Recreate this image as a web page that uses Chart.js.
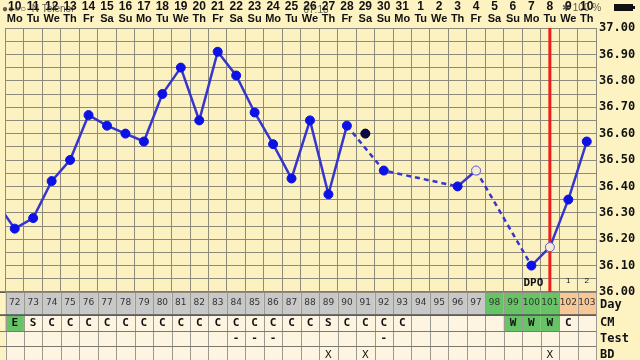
<!DOCTYPE html>
<html><head><meta charset="utf-8">
<script src="https://cdn.jsdelivr.net/npm/chart.js@4"></script>
<style>html,body{margin:0;padding:0;background:#fdf2c2;}#wrap{width:640px;height:360px;}</style>
</head><body><div id="wrap"><canvas id="c" width="640" height="360"></canvas></div>
<script>
// ---- data ----
const dates = ["10","11","12","13","14","15","16","17","18","19","20","21","22","23","24","25","26","27","28","29","30","31","1","2","3","4","5","6","7","8","9","10"];
const weekdays = ["Mo","Tu","We","Th","Fr","Sa","Su","Mo","Tu","We","Th","Fr","Sa","Su","Mo","Tu","We","Th","Fr","Sa","Su","Mo","Tu","We","Th","Fr","Sa","Su","Mo","Tu","We","Th"];
const cycleDays = [72,73,74,75,76,77,78,79,80,81,82,83,84,85,86,87,88,89,90,91,92,93,94,95,96,97,98,99,100,101,102,103];
const prevDayTemp = 36.34;
const temps = [36.24,36.28,36.42,36.50,36.67,36.63,36.60,36.57,36.75,36.85,36.65,36.91,36.82,36.68,36.56,36.43,36.65,36.37,36.63,null,36.46,null,null,null,36.40,36.46,null,null,36.10,36.17,36.35,36.57];
const excludedIndex = [19];
const excludedTemps = [36.60];
const openIndex = [25, 29];
const cmCodes = ["E","S","C","C","C","C","C","C","C","C","C","C","C","C","C","C","C","S","C","C","C","C","","","","","","W","W","W","C",""];
const testMarks = ["","","","","","","","","","","","","-","-","-","","","","","","-","","","","","","","","","","",""];
const bdMarks = ["","","","","","","","","","","","","","","","","","X","","X","","","","","","","","","","X","",""];
const fertileDays = [98,99,100,101];
const lutealDays = [102,103];
const cmFertile = ["E","W"];
const ovulationIndex = 29;
const dpoLabelIndex = 28;
const dpoNumbers = [["1",30],["2",31]];
const yTicks = []; for (let k = 0; k <= 20; k++) yTicks.push(Math.round((36 + k * 0.05) * 100) / 100);
const xBounds = []; for (let k = 0; k <= cycleDays.length; k++) xBounds.push(k - 0.5);

const mainData = [{x: -1, y: prevDayTemp}].concat(temps.map((t, i) => ({x: i, y: t})));
const exclData = excludedIndex.map((i, k) => ({x: i, y: excludedTemps[k]}));

const BLUE = '#0c12e6', LINE = '#3636cf', GRID = '#8f8b7c';
const MONO = "'DejaVu Sans Mono', monospace";
const SANS = "'Liberation Sans', Arial, sans-serif";

const tablePlugin = {
  id: 'table',
  beforeDraw(chart) {
    const {ctx, chartArea: a, scales: {x}} = chart;
    ctx.save();
    ctx.fillStyle = '#fdf2c2'; ctx.fillRect(0, 0, 640, 360);
    ctx.fillStyle = '#fcf1c0'; ctx.fillRect(a.left, a.top, a.right - a.left, a.bottom - a.top);
    const rows = [[a.bottom, 23], [a.bottom + 23, 16], [a.bottom + 39, 15], [a.bottom + 54, 16]];
    const n = cycleDays.length;
    for (let i = 0; i < n; i++) {
      const l = x.getPixelForValue(i - 0.5), r = x.getPixelForValue(i + 0.5);
      // day row
      let c = '#c8c8c8';
      if (fertileDays.includes(cycleDays[i])) c = '#66c466';
      if (lutealDays.includes(cycleDays[i])) c = '#f7c896';
      ctx.fillStyle = c; ctx.fillRect(l, rows[0][0], r - l, rows[0][1]);
      // cm row
      ctx.fillStyle = cmFertile.includes(cmCodes[i]) ? '#66c466' : '#fdf5e2';
      ctx.fillRect(l, rows[1][0], r - l, rows[1][1]);
      ctx.fillStyle = '#fdf5e2';
      ctx.fillRect(l, rows[2][0], r - l, rows[2][1]);
      ctx.fillRect(l, rows[3][0], r - l, rows[3][1]);
    }
    // table lines
    ctx.strokeStyle = '#9a9a90'; ctx.lineWidth = 1;
    for (let k = 0; k <= n; k++) {
      const px = Math.round(x.getPixelForValue(k - 0.5)) + 0.5;
      ctx.beginPath(); ctx.moveTo(px, a.bottom); ctx.lineTo(px, 360); ctx.stroke();
    }
    ctx.strokeStyle = '#7a7a70';
    rows.forEach(([t]) => { ctx.beginPath(); ctx.moveTo(0, Math.round(t) + 0.5); ctx.lineTo(a.right, Math.round(t) + 0.5); ctx.stroke(); });
    ctx.lineWidth = 1.5; ctx.strokeStyle = '#555';
    ctx.beginPath(); ctx.moveTo(0, a.bottom + 23); ctx.lineTo(a.right, a.bottom + 23); ctx.stroke();
    ctx.beginPath(); ctx.moveTo(0, a.bottom); ctx.lineTo(a.right, a.bottom); ctx.stroke();
    // texts
    ctx.textAlign = 'center'; ctx.textBaseline = 'middle';
    for (let i = 0; i < n; i++) {
      const cx = x.getPixelForValue(i);
      ctx.fillStyle = '#333'; ctx.font = "9px 'DejaVu Sans', sans-serif";
      ctx.fillText(String(cycleDays[i]), cx, rows[0][0] + 11);
      ctx.fillStyle = '#111'; ctx.font = "bold 11px " + MONO;
      if (cmCodes[i]) ctx.fillText(cmCodes[i], cx, rows[1][0] + 8);
      if (testMarks[i]) ctx.fillText(testMarks[i], cx, rows[2][0] + 7);
      ctx.font = "11px " + MONO;
      if (bdMarks[i]) ctx.fillText(bdMarks[i], cx, rows[3][0] + 9);
      // header
      ctx.fillStyle = '#111';
      ctx.font = "bold 12px " + SANS;
      ctx.fillText(dates[i], cx, 7);
      ctx.font = "bold 11px " + SANS;
      ctx.fillText(weekdays[i], cx, 19);
    }
    // right labels
    ctx.textAlign = 'left'; ctx.fillStyle = '#111'; ctx.font = "bold 12px " + MONO;
    ctx.fillText('Day', a.right + 4, rows[0][0] + 13);
    ctx.fillText('CM', a.right + 4, rows[1][0] + 8);
    ctx.fillText('Test', a.right + 4, rows[2][0] + 8);
    ctx.fillText('BD', a.right + 4, rows[3][0] + 9);
    // status bar overlay
    ctx.fillStyle = 'rgba(40,40,40,0.75)';
    ctx.font = "10px " + SANS;
    ctx.fillText('\u25CF\u25CF\u25CB\u25CB  N Telenor', 2, 9);
    ctx.textAlign = 'center';
    ctx.fillText('07:18', 316, 10);
    ctx.textAlign = 'left';
    ctx.fillText('\u2731 100 %', 562, 8);
    ctx.fillStyle = '#111'; ctx.fillRect(614, 4, 19, 7); ctx.fillRect(633, 6, 2, 3);
    ctx.restore();
  },
  beforeDatasetsDraw(chart) {
    const {ctx, chartArea: a, scales: {x}} = chart;
    const px = x.getPixelForValue(ovulationIndex);
    ctx.save();
    ctx.strokeStyle = '#e8211d'; ctx.lineWidth = 3;
    ctx.beginPath(); ctx.moveTo(px, a.top); ctx.lineTo(px, a.bottom); ctx.stroke();
    ctx.fillStyle = '#111'; ctx.textAlign = 'center'; ctx.textBaseline = 'middle';
    ctx.font = "bold 11px " + MONO;
    ctx.fillText('DPO', x.getPixelForValue(dpoLabelIndex) + 2, a.bottom - 9);
    ctx.font = "8px " + SANS;
    dpoNumbers.forEach(([t, i]) => ctx.fillText(t, x.getPixelForValue(i), a.bottom - 11));
    ctx.restore();
  }
};

new Chart(document.getElementById('c'), {
  type: 'line',
  data: {
    datasets: [{
      data: mainData,
      borderColor: LINE,
      borderWidth: 2.5,
      spanGaps: true,
      segment: { borderDash: ctx => (ctx.p0.skip || ctx.p1.skip) ? [5, 4] : undefined },
      pointRadius: 4.5,
      pointBorderWidth: 1,
      pointBackgroundColor: ctx => openIndex.includes(ctx.raw && ctx.raw.x) ? '#f4ecd6' : BLUE,
      pointBorderColor: ctx => openIndex.includes(ctx.raw && ctx.raw.x) ? '#5a5ad8' : BLUE,
      tension: 0
    }, {
      data: exclData,
      showLine: false,
      pointRadius: 4.5,
      pointBackgroundColor: '#0b0b45',
      pointBorderColor: '#000020',
      pointBorderWidth: 1
    }]
  },
  options: {
    responsive: false,
    animation: false,
    layout: { padding: { top: 28, bottom: 68, left: 0, right: 0 } },
    plugins: { legend: { display: false }, tooltip: { enabled: false } },
    scales: {
      x: {
        type: 'linear', min: -0.5, max: 31.5, position: 'bottom',
        afterBuildTicks: s => { s.ticks = xBounds.map(v => ({value: v})); },
        afterFit: s => { s.height = 0; },
        ticks: { display: false },
        grid: { color: GRID, drawTicks: false, lineWidth: 1 },
        border: { display: false }
      },
      y: {
        position: 'right', min: 36, max: 37,
        afterBuildTicks: s => { s.ticks = yTicks.map(v => ({value: v})); },
        afterFit: s => { s.width = 44; },
        ticks: {
          autoSkip: false, padding: 3, color: '#111',
          font: { family: 'DejaVu Sans Mono', weight: 'bold', size: 12 },
          callback: v => (Math.round(v * 100) % 10 === 0) ? Number(v).toFixed(2) : ''
        },
        grid: { color: GRID, drawTicks: false, lineWidth: 1 },
        border: { color: GRID }
      }
    }
  },
  plugins: [tablePlugin]
});
</script></body></html>
